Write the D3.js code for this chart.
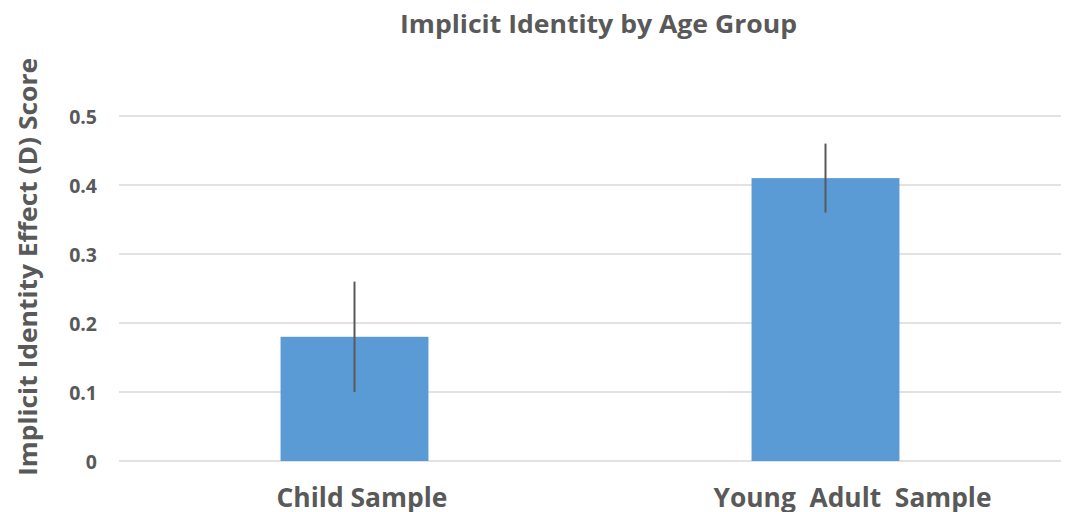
<!DOCTYPE html>
<html><head><meta charset="utf-8">
<script src="https://cdn.jsdelivr.net/npm/d3@7"></script>
<style>body{margin:0;background:#fff}svg{display:block}text{font-family:"Open Sans",sans-serif;font-weight:bold;fill:#595959}</style>
</head><body><svg id="c" width="1066" height="512"></svg>
<script>
const categories = ["Child Sample", "Young  Adult  Sample"];
const values = [0.18, 0.41];
const errLow = [0.10, 0.36];
const errHigh = [0.26, 0.46];
const yTicks = [0, 0.1, 0.2, 0.3, 0.4, 0.5];
const yTickLabels = ["0", "0.1", "0.2", "0.3", "0.4", "0.5"];
const title = "Implicit Identity by Age Group";
const yTitle = "Implicit Identity Effect (D) Score";

(function () {
const svg = d3.select("#c");
const pL = 119, pR = 1061, pT = 116, pB = 461;
const x = d3.scaleBand().domain(categories).range([pL, pR]).paddingInner(0.686).paddingOuter(0.343);
const y = d3.scaleLinear().domain([0, 0.5]).range([pB, pT]);

// grid
svg.append("g").selectAll("line").data(yTicks).join("line")
  .attr("x1", pL).attr("x2", pR)
  .attr("y1", d => y(d)).attr("y2", d => y(d))
  .attr("stroke", "#d9d9d9").attr("stroke-width", 1.5);

// y axis labels
const yAxis = svg.append("g").attr("transform", "translate(97,0)")
  .call(d3.axisLeft(y).tickValues(yTicks).tickFormat((d, i) => yTickLabels[i]).tickSize(0).tickPadding(0));
yAxis.select(".domain").remove();
yAxis.selectAll("text").attr("font-size", 19.5).attr("font-family", null).attr("fill", "#595959").attr("dy", "0.36em");

// bars
svg.append("g").selectAll("rect").data(values).join("rect")
  .attr("x", (d, i) => x(categories[i])).attr("width", x.bandwidth())
  .attr("y", d => y(d)).attr("height", d => pB - y(d))
  .attr("fill", "#5b9bd5");

// error bars
svg.append("g").selectAll("line").data(values).join("line")
  .attr("x1", (d, i) => x(categories[i]) + x.bandwidth() / 2)
  .attr("x2", (d, i) => x(categories[i]) + x.bandwidth() / 2)
  .attr("y1", (d, i) => y(errLow[i])).attr("y2", (d, i) => y(errHigh[i]))
  .attr("stroke", "#595959").attr("stroke-width", 2);

// x labels
const xAxis = svg.append("g").attr("transform", `translate(0,${pB})`)
  .call(d3.axisBottom(x).tickSize(0).tickPadding(0));
xAxis.select(".domain").remove();
const labelLen = [171, 278];
const labelShift = [7.5, 27];
xAxis.selectAll("text").attr("font-family", null).attr("fill", "#595959")
  .attr("font-size", 26).attr("y", 46).attr("dy", 0)
  .attr("dx", (d, i) => labelShift[i])
  .style("white-space", "pre")
  .attr("textLength", (d, i) => labelLen[i]).attr("lengthAdjust", "spacingAndGlyphs");

// title
svg.append("text").attr("x", 598.5).attr("y", 33).attr("text-anchor", "middle")
  .attr("font-size", 25).attr("textLength", 397).attr("lengthAdjust", "spacingAndGlyphs").text(title);

// y title
svg.append("text").attr("transform", "translate(37,267) rotate(-90)")
  .attr("text-anchor", "middle").attr("font-size", 25.5)
  .attr("textLength", 418).attr("lengthAdjust", "spacingAndGlyphs").text(yTitle);
})();
</script></body></html>
